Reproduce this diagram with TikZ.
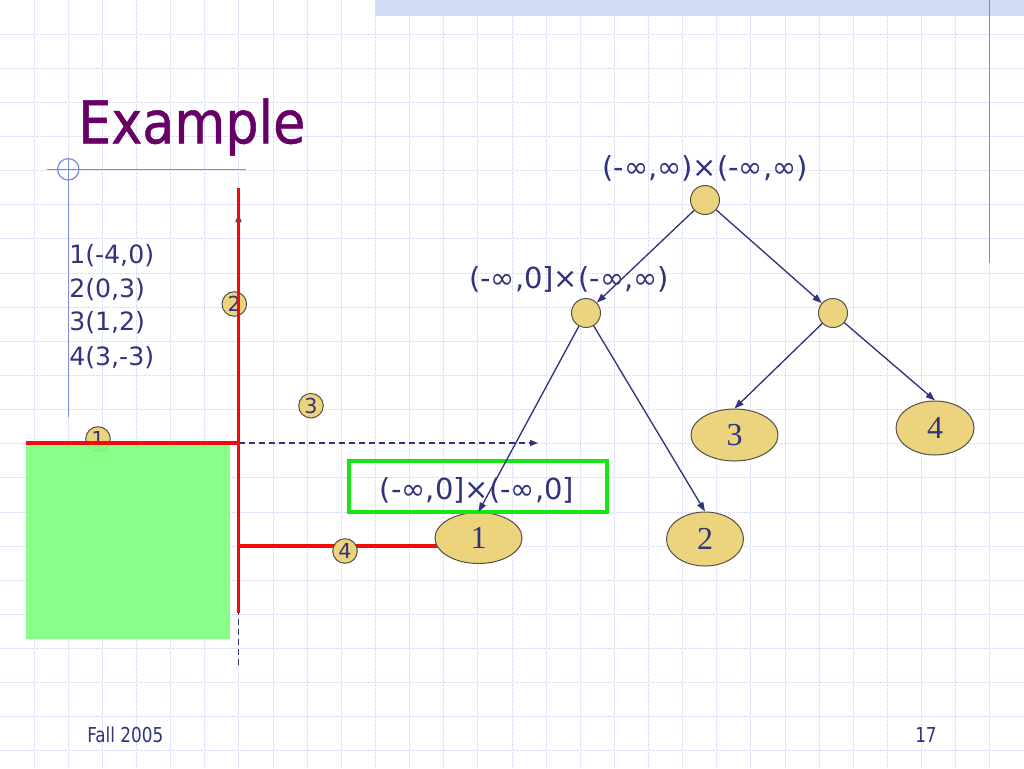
\documentclass[tikz,border=0pt]{standalone}
\usepackage{fontspec}
\setmainfont{DejaVu Sans}
\newfontfamily\titlefont[FakeStretch=0.887,FakeBold=0.8]{DejaVu Sans}
\newfontfamily\footfont[FakeStretch=0.82]{DejaVu Sans}
\newfontfamily\numfont{Liberation Serif}
\usetikzlibrary{arrows.meta,shapes.geometric}
\definecolor{navy}{RGB}{48,52,122}
\definecolor{titlepurple}{RGB}{102,0,102}
\definecolor{gridblue}{RGB}{220,224,245}
\definecolor{bandblue}{RGB}{208,220,244}
\definecolor{decoblue}{RGB}{120,140,220}
\definecolor{tan}{RGB}{236,211,126}
\definecolor{tanline}{RGB}{85,80,70}
\definecolor{slidered}{RGB}{240,12,12}
\definecolor{lightgreen}{RGB}{128,255,128}
\definecolor{boxgreen}{RGB}{20,232,20}
\tikzset{
  gridline/.style={draw=gridblue,line width=0.75pt,dash pattern=on 2pt off 1pt},
  navyarrow/.style={draw=navy,line width=1pt,-{Triangle[length=7pt,width=5pt]}},
  dasharrow/.style={draw=navy,line width=0.85pt,dash pattern=on 4.5pt off 3pt,-{Triangle[length=6pt,width=4.5pt]}},
  redline/.style={draw=slidered,line width=2.4pt},
  treedot/.style={circle,fill=tan,draw=tanline,line width=0.75pt,minimum size=21.75pt,inner sep=0pt},
  leafnode/.style={ellipse,fill=tan,draw=tanline,line width=0.75pt,inner sep=0pt,text=navy,font=\numfont\fontsize{24}{24}\selectfont},
  smallnum/.style={circle,fill=tan,draw=tanline,line width=0.75pt,minimum size=18.45pt,inner sep=0pt,text=navy,font=\fontsize{15.5}{15.5}\selectfont},
  treelabel/.style={anchor=base,inner sep=0pt,text=navy,font=\fontsize{21.75}{21.75}\selectfont},
  listline/.style={anchor=base west,inner sep=0pt,text=navy,font=\fontsize{18.9}{18.9}\selectfont},
  footer/.style={anchor=base west,inner sep=0pt,text=navy,font=\footfont\fontsize{15.4}{15.4}\selectfont},
  decoline/.style={draw=decoblue,line width=0.9pt}
}
\begin{document}
\begin{tikzpicture}[x=0.75pt,y=-0.75pt]
\useasboundingbox (0,0) rectangle (1024,768);
\fill[white] (0,0) rectangle (1024,768);
% grid
\foreach \k in {1,...,29} \draw[gridline] ({\k*34.1333},0) -- ({\k*34.1333},768);
\foreach \k in {1,...,22} \draw[gridline] (0,{\k*34.1333}) -- (1024,{\k*34.1333});
% slide decorations
\fill[bandblue] (375,0) rectangle (1024,16);
\draw[decoblue,line width=1.2pt] (989.5,0) -- (989.5,263);
\draw[decoline] (47,169.3) -- (246,169.3);
\draw[decoline] (68.3,158) -- (68.3,417);
\draw[decoline] (68.3,169.3) circle[radius=10.7];
% title
\node[anchor=base west,inner sep=0pt,text=titlepurple,font=\titlefont\fontsize{44.25}{44.25}\selectfont] (title) at (78,143.3) {Example};
% point list
\node[listline] (p1) at (69,263) {1(-4,0)};
\node[listline] (p2) at (69,297) {2(0,3)};
\node[listline] (p3) at (69,330) {3(1,2)};
\node[listline] (p4) at (69,365) {4(3,-3)};
% small numbered points (below the lines)
\node[smallnum] (s1) at (98,439) {1};
\node[smallnum] (s2) at (234.3,304) {2};
% green region
\fill[lightgreen,fill opacity=0.93] (26,443) rectangle (230,639);
% dashed axes
\coordinate (hx0) at (238.5,443);
\coordinate (hx1) at (538,443);
\coordinate (vy0) at (238.5,665);
\coordinate (vy1) at (238.5,214);
\draw[dasharrow] (hx0) -- (hx1);
\draw[dasharrow] (vy0) -- (vy1);
% red splitting lines
\draw[redline] (26,443) -- (238.5,443);
\draw[redline] (238.5,188) -- (238.5,613);
\draw[redline] (238.5,546) -- (440,546);
\node[smallnum] (s3) at (311,405.7) {3};
\node[smallnum] (s4) at (345,551) {4};
% tree
\node[treedot] (root) at (705,200) {};
\node[treedot] (lc) at (586,313) {};
\node[treedot] (rc) at (833,313) {};
\node[leafnode,minimum width=65.25pt,minimum height=38.25pt] (e1) at (478.5,538) {1};
\node[leafnode,minimum width=57.75pt,minimum height=40.5pt] (e2) at (705,539) {2};
\node[leafnode,minimum width=65.25pt,minimum height=39pt] (e3) at (734.5,435) {3};
\node[leafnode,minimum width=58.5pt,minimum height=40.5pt] (e4) at (935,428) {4};
\node[treelabel] (lroot) at (705,177) {(-∞,∞)×(-∞,∞)};
\node[treelabel] (llc) at (569,288) {(-∞,0]×(-∞,∞)};
\draw[boxgreen,line width=2.6pt] (349,461) rectangle (607,512);
\node[treelabel] (lbox) at (477,499) {(-∞,0]×(-∞,0]};
\draw[navyarrow] (root) -- (lc);
\draw[navyarrow] (root) -- (rc);
\draw[navyarrow] (lc) -- (e1.north);
\draw[navyarrow] (lc) -- (e2.north);
\draw[navyarrow] (rc) -- (e3.north);
\draw[navyarrow] (rc) -- (e4.north);
% footer
\node[footer] (fall) at (87,742) {Fall 2005};
\node[footer] (page) at (915,742) {17};
\end{tikzpicture}
\end{document}
